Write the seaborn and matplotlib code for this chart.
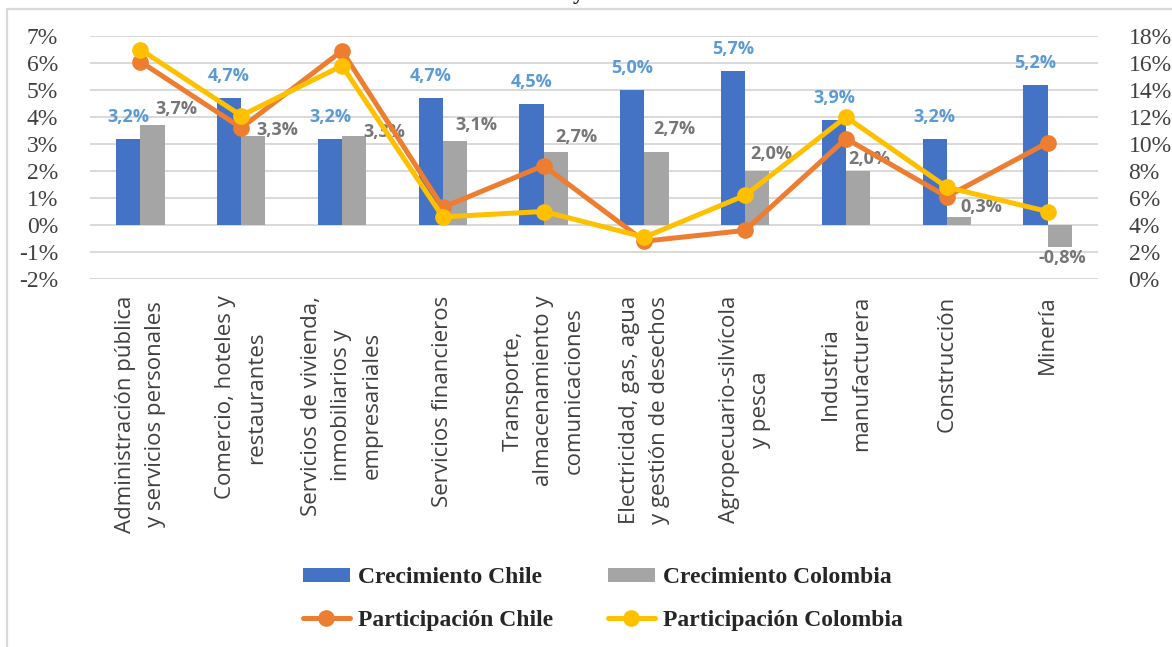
import matplotlib
matplotlib.use("Agg")
import matplotlib.pyplot as plt
import numpy as np
import pandas as pd
import seaborn as sns
from matplotlib.lines import Line2D
from matplotlib.patches import Patch
from matplotlib.ticker import FuncFormatter, MultipleLocator

# ---- data -------------------------------------------------------------
sectores = [
    "Administración pública\ny servicios personales",
    "Comercio, hoteles y\nrestaurantes",
    "Servicios de vivienda,\ninmobiliarios y\nempresariales",
    "Servicios financieros",
    "Transporte,\nalmacenamiento y\ncomunicaciones",
    "Electricidad, gas, agua\ny gestión de desechos",
    "Agropecuario-silvícola\ny pesca",
    "Industria\nmanufacturera",
    "Construcción",
    "Minería",
]
crec_chile = [3.2, 4.7, 3.2, 4.7, 4.5, 5.0, 5.7, 3.9, 3.2, 5.2]
crec_colombia = [3.7, 3.3, 3.3, 3.1, 2.7, 2.7, 2.0, 2.0, 0.3, -0.8]
part_chile = [16.1, 11.2, 16.9, 5.3, 8.4, 2.8, 3.6, 10.4, 6.1, 10.1]
part_colombia = [17.0, 12.1, 15.8, 4.6, 5.0, 3.1, 6.2, 12.0, 6.8, 5.0]

serie_crec = ["Crecimiento Chile", "Crecimiento Colombia"]
serie_part = ["Participación Chile", "Participación Colombia"]
ticks_izq = list(range(-2, 8))
ticks_der = list(range(0, 20, 2))

# ---- style ------------------------------------------------------------
AZUL, GRIS = "#4472C4", "#A5A5A5"
NARANJA, AMARILLO = "#ED7D31", "#FFC000"
ETIQ_AZUL, ETIQ_GRIS = "#5B9BD5", "#767676"
GRID = "#D9D9D9"
TEXTO = "#404040"
SERIF = ["Liberation Serif", "DejaVu Serif"]

# label nudges (pixels) for the Colombia growth values
desplaz_col = [(24, 16), (24, 6), (30, 4), (21, 16), (21, 15),
               (18, 23), (14, 17), (11, 12), (22, 10), (3, -11)]

sns.set_theme(style="white")
plt.rcParams["font.family"] = ["Open Sans", "DejaVu Sans"]

W, H = 1172, 647
fig = plt.figure(figsize=(W / 100, H / 100), dpi=100)
ax = fig.add_axes([90 / W, 1 - 279 / H, (1098 - 90) / W, (279 - 36) / H])

# ---- bars (left axis) -------------------------------------------------
df_barras = pd.DataFrame({
    "sector": sectores * 2,
    "serie": [serie_crec[0]] * len(sectores) + [serie_crec[1]] * len(sectores),
    "valor": crec_chile + crec_colombia,
})
sns.barplot(data=df_barras, x="sector", y="valor", hue="serie",
            hue_order=serie_crec, palette=[AZUL, GRIS], saturation=1,
            width=0.48, gap=0, errorbar=None, legend=False, ax=ax,
            linewidth=0)

ax.set_ylim(-2, 7)
ax.set_xlim(-0.5, len(sectores) - 0.5)
ax.yaxis.set_major_locator(MultipleLocator(1))
ax.set_yticks(ticks_izq)
ax.yaxis.set_major_formatter(FuncFormatter(lambda v, _: f"{v:.0f}%"))
ax.grid(axis="y", color=GRID, linewidth=1.4)
ax.grid(axis="x", visible=False)
ax.set_axisbelow(True)
for s in ax.spines.values():
    s.set_visible(False)
ax.set_xlabel("")
ax.set_ylabel("")
ax.set_xticks(range(len(sectores)))
ax.set_xticklabels(sectores, rotation=90, ha="center", va="top",
                   multialignment="center", fontsize=16, color=TEXTO,
                   linespacing=1.6)
ax.tick_params(axis="x", length=0, pad=12)
ax.tick_params(axis="y", length=0, pad=23, labelsize=17, labelcolor=TEXTO)
for t in ax.get_yticklabels():
    t.set_fontfamily(SERIF)

# value labels on the bars
fmt = lambda v: f"{v:.1f}%".replace(".", ",")
cont_chile, cont_col = ax.containers[0], ax.containers[1]
for barra, v in zip(cont_chile, crec_chile):
    x = barra.get_x() + barra.get_width() / 2
    ax.annotate(fmt(v), xy=(x, v), xytext=(0, 22 * 0.72),
                textcoords="offset points", ha="center", va="center",
                color=ETIQ_AZUL, fontweight="bold", fontsize=13)
for barra, v, (dx, dy) in zip(cont_col, crec_colombia, desplaz_col):
    x = barra.get_x() + barra.get_width() / 2
    ax.annotate(fmt(v), xy=(x, v), xytext=(dx * 0.72, dy * 0.72),
                textcoords="offset points", ha="center", va="center",
                color=ETIQ_GRIS, fontweight="bold", fontsize=13)

# ---- lines (right axis) -----------------------------------------------
ax2 = ax.twinx()
df_lineas = pd.DataFrame({
    "pos": list(range(len(sectores))) * 2,
    "serie": [serie_part[0]] * len(sectores) + [serie_part[1]] * len(sectores),
    "valor": part_chile + part_colombia,
})
sns.lineplot(data=df_lineas, x="pos", y="valor", hue="serie",
             hue_order=serie_part, palette=[NARANJA, AMARILLO],
             marker="o", markersize=12, markeredgewidth=0, linewidth=3.6,
             sort=False, legend=False, ax=ax2)
ax2.set_ylim(0, 18)
ax2.set_xlim(-0.5, len(sectores) - 0.5)
ax2.set_yticks(ticks_der)
ax2.yaxis.set_major_formatter(FuncFormatter(lambda v, _: f"{v:.0f}%"))
ax2.grid(False)
for s in ax2.spines.values():
    s.set_visible(False)
ax2.set_xlabel("")
ax2.set_ylabel("")
ax2.tick_params(axis="y", length=0, pad=22, labelsize=17, labelcolor=TEXTO)
for t in ax2.get_yticklabels():
    t.set_fontfamily(SERIF)

# ---- legend -----------------------------------------------------------
manejadores = [
    Patch(facecolor=AZUL, edgecolor="none", label=serie_crec[0]),
    Line2D([], [], color=NARANJA, lw=3.6, marker="o", markersize=12,
           markeredgewidth=0, label=serie_part[0]),
    Patch(facecolor=GRIS, edgecolor="none", label=serie_crec[1]),
    Line2D([], [], color=AMARILLO, lw=3.6, marker="o", markersize=12,
           markeredgewidth=0, label=serie_part[1]),
]
fig.legend(handles=manejadores, ncol=2, loc="center",
           bbox_to_anchor=(603 / W, 1 - 599 / H), frameon=False,
           prop={"family": SERIF, "weight": "bold", "size": 17},
           labelcolor="#262626", handlelength=2.0, handleheight=0.5,
           handletextpad=0.35, columnspacing=2.3, labelspacing=0.9)

# ---- outer frame and heading fragment ---------------------------------
fig.add_artist(Line2D([7 / W, 7 / W], [0, 1 - 9 / H], transform=fig.transFigure,
                      color=GRID, lw=1.6))
fig.add_artist(Line2D([7 / W, 1], [1 - 9 / H, 1 - 9 / H], transform=fig.transFigure,
                      color=GRID, lw=1.6))
fig.text(578 / W, 1 + 1 / H, "y", ha="center", va="baseline",
         fontsize=16, fontweight="bold", family=SERIF, color="#111111")

fig.savefig("out.png", dpi=100)
